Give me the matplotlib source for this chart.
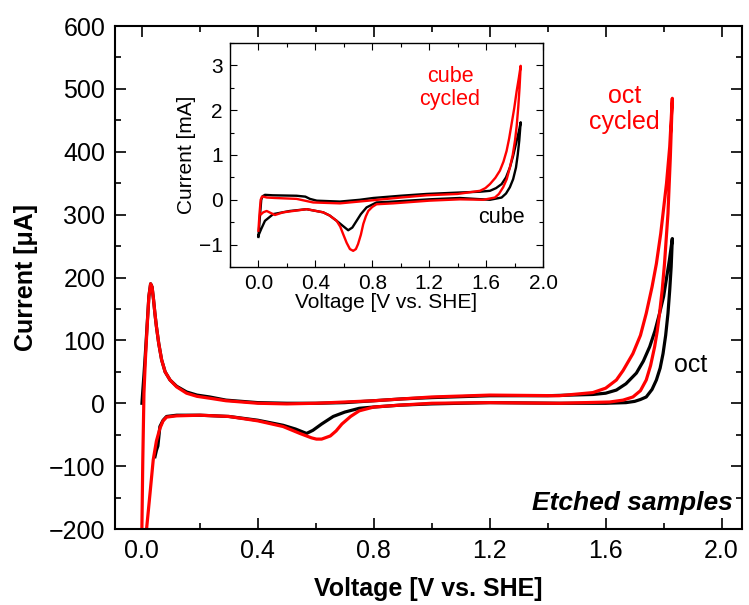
import numpy as np
import matplotlib
matplotlib.use("Agg")
import matplotlib.pyplot as plt
from matplotlib.ticker import MultipleLocator

plt.rcParams['font.family'] = ['Liberation Sans', 'DejaVu Sans']

# ---- main panel: octahedral sample, current in uA ----
oct_fwd_V = [0.000, 0.003, 0.007, 0.012, 0.018, 0.024, 0.030, 0.035, 0.040, 0.045, 0.050, 0.058,
             0.068, 0.080, 0.097, 0.120, 0.154, 0.190, 0.234, 0.29, 0.40, 0.50, 0.60, 0.70, 0.80,
             0.90, 1.00, 1.20, 1.40, 1.556, 1.60, 1.637, 1.67, 1.706, 1.73, 1.752, 1.77, 1.786,
             1.80, 1.809, 1.82, 1.83]
oct_fwd_I = [0, 20, 45, 80, 125, 170, 190, 185, 165, 142, 122, 95,
             69, 50, 37, 27, 18, 13, 10, 5, 1, 0, 0, 1, 4,
             7, 9, 12, 12, 14, 16, 21, 31, 48, 67, 90, 115, 143,
             170, 196, 228, 262]
oct_rev_V = [1.83, 1.826, 1.821, 1.815, 1.807, 1.798, 1.788, 1.775, 1.76, 1.74, 1.72, 1.70, 1.67,
             1.60, 1.44, 1.20, 1.00, 0.89, 0.80, 0.75, 0.70, 0.66, 0.62, 0.59, 0.568, 0.53, 0.487,
             0.40, 0.30, 0.20, 0.12, 0.085, 0.073, 0.062, 0.058, 0.055, 0.050, 0.045]
oct_rev_I = [262, 217, 180, 143, 108, 79, 56, 37, 22, 10, 6, 3, 1,
             0, 0, 1, -1, -3, -6, -8, -14, -21, -33, -43, -48, -41, -35,
             -27, -21, -19, -19, -21, -27, -37, -55, -68, -75, -85]

octc_fwd_V = [-0.001, 0.003, 0.007, 0.012, 0.018, 0.024, 0.030, 0.035, 0.040, 0.045, 0.050, 0.058,
              0.068, 0.080, 0.097, 0.120, 0.154, 0.190, 0.234, 0.29, 0.40, 0.50, 0.60, 0.70, 0.80,
              0.90, 1.00, 1.20, 1.44, 1.556, 1.60, 1.637, 1.66, 1.694, 1.72, 1.74, 1.76, 1.775,
              1.79, 1.798, 1.81, 1.821, 1.83]
octc_fwd_I = [-230, -90, 16, 70, 122, 170, 190, 185, 165, 142, 122, 95,
              69, 50, 37, 26, 16, 11, 8, 4, 0, -1, 0, 2, 4,
              7, 10, 13, 12, 17, 24, 37, 52, 79, 108, 143, 185, 222,
              270, 302, 350, 408, 485]
octc_rev_V = [1.83, 1.823, 1.815, 1.803, 1.795, 1.786, 1.778, 1.769, 1.755, 1.74, 1.72, 1.694,
              1.66, 1.614, 1.44, 1.20, 1.00, 0.89, 0.80, 0.75, 0.72, 0.69, 0.67, 0.65, 0.62,
              0.602, 0.585, 0.545, 0.487, 0.40, 0.30, 0.20, 0.12, 0.085, 0.073, 0.062, 0.050,
              0.039, 0.028, 0.016, 0.012]
octc_rev_I = [485, 390, 302, 222, 180, 143, 115, 90, 60, 37, 20, 10,
              5, 2, 0, 1, 0, -3, -6, -12, -21, -33, -44, -52, -57,
              -57, -55, -48, -37, -28, -21, -19, -20, -22, -28, -40, -60,
              -90, -143, -200, -230]

# ---- inset: cubic sample, current in mA ----
cube_fwd_V = [0.0, 0.01, 0.02, 0.03, 0.046, 0.10, 0.268, 0.33, 0.362, 0.41, 0.573, 0.713, 0.807,
              1.0, 1.182, 1.40, 1.557, 1.627, 1.67, 1.709, 1.74, 1.767, 1.79, 1.815, 1.83, 1.843]
cube_fwd_I = [-0.83, -0.4, 0.0, 0.08, 0.11, 0.10, 0.09, 0.07, 0.02, -0.02, -0.04, 0.0, 0.04,
              0.09, 0.13, 0.16, 0.18, 0.2, 0.26, 0.35, 0.5, 0.72, 0.98, 1.32, 1.52, 1.73]
cube_rev_V = [1.843, 1.833, 1.822, 1.81, 1.79, 1.767, 1.74, 1.709, 1.627, 1.416, 1.2, 0.947, 0.83,
              0.76, 0.72, 0.69, 0.66, 0.631, 0.60, 0.55, 0.50, 0.455, 0.339, 0.221, 0.104, 0.046,
              0.02, 0.0]
cube_rev_I = [1.73, 1.32, 1.0, 0.72, 0.46, 0.28, 0.14, 0.05, 0.0, 0.04, 0.01, -0.04, -0.06,
              -0.17, -0.32, -0.47, -0.62, -0.68, -0.6, -0.47, -0.35, -0.28, -0.21, -0.25, -0.32, -0.47,
              -0.65, -0.80]

cubec_fwd_V = [0.0, 0.008, 0.016, 0.025, 0.034, 0.06, 0.116, 0.268, 0.385, 0.573, 0.807, 1.0,
               1.182, 1.40, 1.557, 1.595, 1.627, 1.665, 1.697, 1.722, 1.744, 1.762, 1.779, 1.798,
               1.815, 1.83, 1.843]
cubec_fwd_I = [-0.69, -0.3, 0.0, 0.07, 0.07, 0.05, 0.04, 0.02, -0.06, -0.08, -0.01, 0.05,
               0.1, 0.13, 0.2, 0.26, 0.35, 0.49, 0.65, 0.85, 1.09, 1.37, 1.69, 2.05,
               2.43, 2.72, 2.99]
cubec_rev_V = [1.843, 1.835, 1.826, 1.815, 1.803, 1.787, 1.767, 1.745, 1.72, 1.69, 1.662, 1.58,
               1.416, 1.2, 0.947, 0.83, 0.80, 0.772, 0.755, 0.737, 0.72, 0.70, 0.685, 0.666, 0.643,
               0.62, 0.596, 0.575, 0.55, 0.50, 0.455, 0.339, 0.174, 0.116, 0.058, 0.034, 0.02]
cubec_rev_I = [2.99, 2.5, 2.07, 1.65, 1.32, 1.0, 0.72, 0.46, 0.28, 0.13, 0.05, 0.0,
               0.01, -0.02, -0.08, -0.1, -0.16, -0.25, -0.37, -0.54, -0.78, -0.99, -1.1, -1.14, -1.1,
               -0.96, -0.77, -0.6, -0.47, -0.35, -0.28, -0.21, -0.28, -0.34, -0.25, -0.28, -0.32]


def style_axes(a, lw_spine, maj, mino, size):
    for s in a.spines.values():
        s.set_linewidth(lw_spine)
    a.tick_params(which='both', direction='in', top=True, right=True, labelsize=size,
                  width=lw_spine * 0.8)
    a.tick_params(which='major', length=maj, pad=7)
    a.tick_params(which='minor', length=mino)


fig = plt.figure(figsize=(7.49, 6.05), dpi=100)
ax = fig.add_axes([0.1535, 0.1256, 0.837, 0.8314])

ax.plot(oct_fwd_V + oct_rev_V, oct_fwd_I + oct_rev_I, color='black', lw=2.3)
ax.plot(octc_fwd_V + octc_rev_V, octc_fwd_I + octc_rev_I, color='#ff0000', lw=2.3)

ax.set_xlim(-0.093, 2.07)
ax.set_ylim(-200, 600)
ax.xaxis.set_major_locator(MultipleLocator(0.4))
ax.xaxis.set_minor_locator(MultipleLocator(0.2))
ax.yaxis.set_major_locator(MultipleLocator(100))
ax.yaxis.set_minor_locator(MultipleLocator(50))
ax.xaxis.set_major_formatter(lambda v, p: f"{v:.1f}")
style_axes(ax, 1.5, 8, 4, 18)
ax.set_xlabel("Voltage [V vs. SHE]", fontsize=18, fontweight='bold', labelpad=10)
ax.set_ylabel("Current [\u03bcA]", fontsize=18, fontweight='bold', labelpad=8)

ax.text(1.665, 468, "oct\ncycled", color='#ff0000', fontsize=18, ha='center', va='center',
        linespacing=1.1)
ax.text(1.894, 61, "oct", color='black', fontsize=18, ha='center', va='center')
ax.text(1.693, -159, "Etched samples", fontsize=19, fontweight='bold', fontstyle='italic',
        ha='center', va='center')

# inset with the cube data
axi = fig.add_axes([0.307, 0.5587, 0.418, 0.3703])
axi.plot(cube_fwd_V + cube_rev_V, cube_fwd_I + cube_rev_I, color='black', lw=1.7)
axi.plot(cubec_fwd_V + cubec_rev_V, cubec_fwd_I + cubec_rev_I, color='#ff0000', lw=1.7)
axi.set_xlim(-0.2, 2.0)
axi.set_ylim(-1.5, 3.5)
axi.xaxis.set_major_locator(MultipleLocator(0.4))
axi.xaxis.set_minor_locator(MultipleLocator(0.2))
axi.yaxis.set_major_locator(MultipleLocator(1))
axi.yaxis.set_minor_locator(MultipleLocator(0.5))
axi.xaxis.set_major_formatter(lambda v, p: f"{v:.1f}")
style_axes(axi, 1.0, 5, 3, 15)
axi.tick_params(which='major', pad=5)
axi.set_xlabel("Voltage [V vs. SHE]", fontsize=15, labelpad=0)
axi.set_ylabel("Current [mA]", fontsize=15, labelpad=2)
axi.text(1.346, 2.49, "cube\ncycled", color='#ff0000', fontsize=15.5, ha='center', va='center',
         linespacing=1.15)
axi.text(1.709, -0.4, "cube", color='black', fontsize=15.5, ha='center', va='center')

fig.savefig("out.png", dpi=100)
